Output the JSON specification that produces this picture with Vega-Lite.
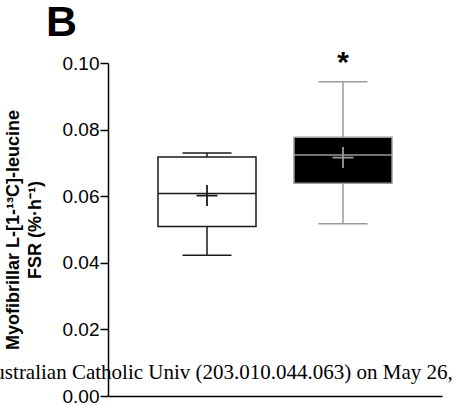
{
  "$schema": "https://vega.github.io/schema/vega-lite/v6.json",
  "autosize": {"type": "none"},
  "width": 334,
  "height": 333,
  "padding": {"left": 108, "top": 63, "right": 15, "bottom": 10},
  "background": "white",
  "title": {
    "text": "B",
    "anchor": "start",
    "frame": "group",
    "font": "Liberation Sans",
    "fontSize": 43,
    "fontWeight": "bold",
    "color": "black",
    "dx": -62,
    "offset": 3
  },
  "data": {
    "values": [
      {"group": "Group 1", "min": 0.0423, "q1": 0.0509, "median": 0.0608, "q3": 0.0718, "max": 0.0730, "mean": 0.0602, "sig": ""},
      {"group": "Group 2", "min": 0.0517, "q1": 0.0639, "median": 0.0724, "q3": 0.0777, "max": 0.0944, "mean": 0.0716, "sig": "*"}
    ]
  },
  "encoding": {
    "x": {
      "field": "group",
      "type": "nominal",
      "scale": {"type": "point", "padding": 0.728},
      "axis": {"labels": false, "ticks": false, "title": null, "domainColor": "black", "domainWidth": 1.5, "grid": false}
    }
  },
  "layer": [
    {
      "mark": {"type": "rule", "strokeWidth": 1.5},
      "encoding": {
        "y": {
          "field": "min",
          "type": "quantitative",
          "scale": {"domain": [0, 0.1], "nice": false},
          "axis": {
            "values": [0, 0.02, 0.04, 0.06, 0.08, 0.1],
            "format": ".2f",
            "grid": false,
            "labelFont": "Liberation Sans",
            "labelFontSize": 19,
            "labelColor": "black",
            "labelPadding": 1,
            "tickColor": "black",
            "tickSize": 8,
            "tickWidth": 1.5,
            "domainColor": "black",
            "domainWidth": 1.5,
            "title": ["Myofibrillar L-[1-¹³C]-leucine", "FSR (%·h⁻¹)"],
            "titleFont": "Liberation Sans",
            "titleFontSize": 18,
            "titleFontWeight": "bold",
            "titleColor": "black",
            "titlePadding": 18,
            "titleLineHeight": 22
          }
        },
        "y2": {"field": "q1"},
        "stroke": {"field": "group", "type": "nominal", "scale": {"range": ["#1a1a1a", "#9a9a9a"]}, "legend": null}
      }
    },
    {
      "mark": {"type": "rule", "strokeWidth": 1.5},
      "encoding": {
        "y": {"field": "q3", "type": "quantitative"},
        "y2": {"field": "max"},
        "stroke": {"field": "group", "type": "nominal", "legend": null}
      }
    },
    {
      "mark": {"type": "tick", "size": 49, "thickness": 1.5, "opacity": 1},
      "encoding": {
        "y": {"field": "min", "type": "quantitative"},
        "color": {"field": "group", "type": "nominal", "scale": {"range": ["#1a1a1a", "#9a9a9a"]}, "legend": null}
      }
    },
    {
      "mark": {"type": "tick", "size": 49, "thickness": 1.5, "opacity": 1},
      "encoding": {
        "y": {"field": "max", "type": "quantitative"},
        "color": {"field": "group", "type": "nominal", "legend": null}
      }
    },
    {
      "mark": {"type": "bar", "size": 98, "strokeWidth": 1.5},
      "encoding": {
        "y": {"field": "q1", "type": "quantitative"},
        "y2": {"field": "q3"},
        "fill": {"field": "group", "type": "nominal", "scale": {"range": ["white", "black"]}, "legend": null},
        "stroke": {"field": "group", "type": "nominal", "legend": null}
      }
    },
    {
      "mark": {"type": "tick", "size": 98, "thickness": 1.5, "opacity": 1},
      "encoding": {
        "y": {"field": "median", "type": "quantitative"},
        "color": {"field": "group", "type": "nominal", "legend": null}
      }
    },
    {
      "mark": {"type": "point", "shape": "M-1,0L1,0M0,-1L0,1", "filled": false, "size": 441, "strokeWidth": 1.8, "opacity": 1},
      "encoding": {
        "y": {"field": "mean", "type": "quantitative"},
        "stroke": {"field": "group", "type": "nominal", "legend": null}
      }
    },
    {
      "mark": {"type": "text", "font": "Liberation Sans", "fontSize": 30, "fontWeight": "bold", "baseline": "alphabetic", "dy": -10, "color": "black"},
      "encoding": {
        "y": {"field": "max", "type": "quantitative"},
        "text": {"field": "sig"}
      }
    },
    {
      "data": {"values": [{"note": "Australian Catholic Univ (203.010.044.063) on May 26,"}]},
      "mark": {"type": "text", "font": "Liberation Serif", "fontSize": 21, "align": "center", "baseline": "alphabetic", "dx": 9, "color": "black"},
      "encoding": {
        "x": {"datum": "Group 1"},
        "y": {"datum": 0.005},
        "text": {"field": "note"}
      }
    }
  ],
  "config": {"view": {"stroke": null}}
}
